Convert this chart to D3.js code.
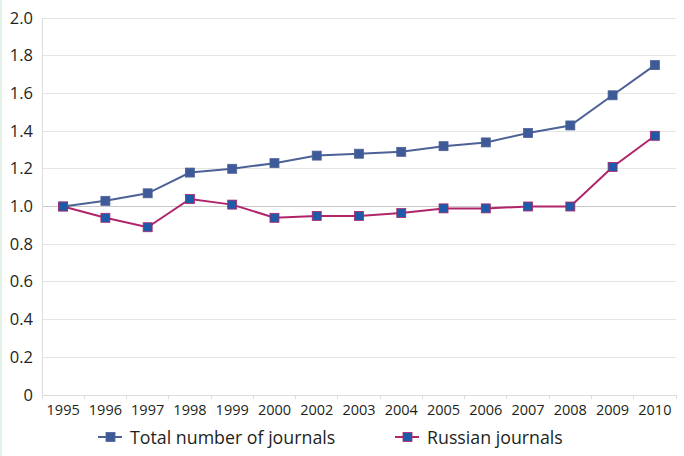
<!DOCTYPE html>
<html><head><meta charset="utf-8">
<script src="https://cdn.jsdelivr.net/npm/d3@7"></script>
<style>body{margin:0;background:#fff}svg{display:block}text{font-family:"Open Sans",Lato,sans-serif;fill:#231f20}</style>
</head><body><svg id="c" width="684" height="456"></svg>
<script>
const years = ["1995","1996","1997","1998","1999","2000","2002","2003","2004","2005","2006","2007","2008","2009","2010"];
const totalJournals = [1.00,1.03,1.07,1.18,1.20,1.23,1.27,1.28,1.29,1.32,1.34,1.39,1.43,1.59,1.75];
const russianJournals = [1.00,0.94,0.89,1.04,1.01,0.94,0.95,0.95,0.965,0.99,0.99,1.00,1.00,1.21,1.375];
const yTicks = [0,0.2,0.4,0.6,0.8,1.0,1.2,1.4,1.6,1.8,2.0];
const seriesNames = ["Total number of journals","Russian journals"];

const svg = d3.select("#c");
const L=42, R=676, T=18, B=395;
const x = d3.scaleBand().domain(years).range([L,R]);
const y = d3.scaleLinear().domain([0,2]).range([B,T]);

svg.append("rect").attr("x",0).attr("y",0).attr("width",2).attr("height",456).attr("fill","#e3f0e6");

// gridlines
svg.append("g").selectAll("line").data(yTicks.filter(d=>d>0)).join("line")
  .attr("x1",L).attr("x2",R).attr("y1",d=>y(d)).attr("y2",d=>y(d))
  .attr("stroke",d=>d===1?"#c8c8c8":"#e4e4e4").attr("stroke-width",1).attr("shape-rendering","crispEdges");
// y axis line
svg.append("line").attr("x1",L).attr("x2",L).attr("y1",T).attr("y2",B).attr("stroke","#dcdcdc").attr("shape-rendering","crispEdges");
// x axis
svg.append("line").attr("x1",L).attr("x2",R).attr("y1",B).attr("y2",B).attr("stroke","#dcdcdc").attr("shape-rendering","crispEdges");
const bounds = years.map(d=>x(d)).concat([R]);
svg.append("g").selectAll("line").data(bounds).join("line")
  .attr("x1",d=>d).attr("x2",d=>d).attr("y1",B).attr("y2",B+4).attr("stroke","#dcdcdc").attr("shape-rendering","crispEdges");

svg.append("g").selectAll("text").data(yTicks).join("text")
  .attr("x",33).attr("y",d=>y(d)+5.5).attr("text-anchor","end").attr("font-size",16.5)
  .text(d=>d===0?"0":d.toFixed(1));
svg.append("g").selectAll("text").data(years).join("text")
  .attr("x",d=>x(d)+x.bandwidth()/2).attr("y",B+20).attr("text-anchor","middle").attr("font-size",14.5)
  .text(d=>d);

const cx = d=>x(d)+x.bandwidth()/2;
const line = d3.line().x((v,i)=>cx(years[i])).y(v=>y(v));
const styles = [
  {data: totalJournals, stroke:"#4c6296", fill:"#3e5a98", mstroke:"#4c6296"},
  {data: russianJournals, stroke:"#b0246a", fill:"#1f5aa8", mstroke:"#b0246a"}
];
styles.forEach(s=>{
  svg.append("path").attr("d",line(s.data)).attr("fill","none").attr("stroke",s.stroke).attr("stroke-width",2);
  svg.append("g").selectAll("rect").data(s.data).join("rect")
    .attr("x",(v,i)=>cx(years[i])-4.5).attr("y",v=>y(v)-4.5).attr("width",9).attr("height",9)
    .attr("fill",s.fill).attr("stroke",s.mstroke).attr("stroke-width",0.8);
});

// legend
const legX = [98,395];
styles.forEach((s,i)=>{
  const g = svg.append("g").attr("transform",`translate(${legX[i]},437)`);
  g.append("line").attr("x1",0).attr("x2",24).attr("y1",0).attr("y2",0).attr("stroke",s.stroke).attr("stroke-width",2);
  g.append("rect").attr("x",8).attr("y",-4.5).attr("width",9).attr("height",9).attr("fill",s.fill).attr("stroke",s.mstroke).attr("stroke-width",0.8);
  g.append("text").attr("x",32).attr("y",6.5).attr("font-size",17.8).text(seriesNames[i]);
});
</script></body></html>
